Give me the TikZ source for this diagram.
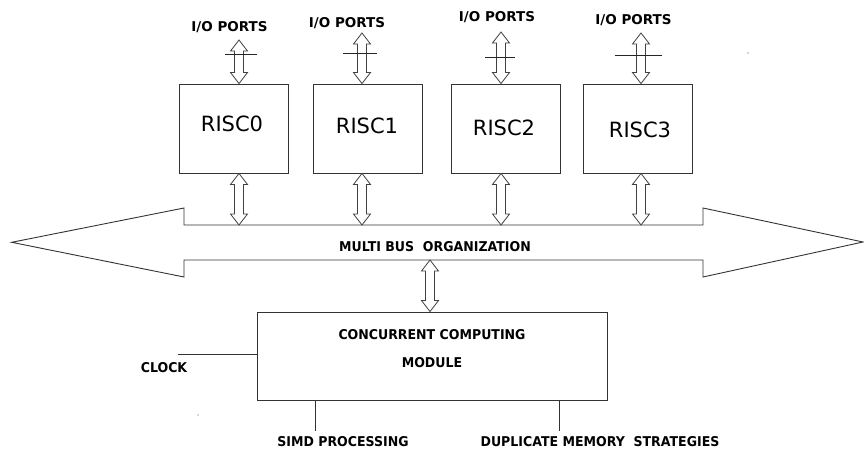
\documentclass[tikz,border=0pt]{standalone}
\usepackage{fontspec}
\setmainfont{DejaVu Sans}
\newfontfamily\lblfont[FakeStretch=0.93]{DejaVu Sans}
\newfontfamily\iofont{DejaVu Sans}
\usetikzlibrary{calc}
\newcommand{\hollowarrow}[2]{%
  \draw[harrow] let \p1=#1, \p2=#2 in
    (\x1,\y1) -- (\x1-8.5pt,\y1-11pt) -- (\x1-4.5pt,\y1-11pt) -- (\x1-4.5pt,\y2+11pt)
    -- (\x1-8.5pt,\y2+11pt) -- (\x1,\y2) -- (\x1+8.5pt,\y2+11pt) -- (\x1+4.5pt,\y2+11pt)
    -- (\x1+4.5pt,\y1-11pt) -- (\x1+8.5pt,\y1-11pt) -- cycle;}
\tikzset{
  ln/.style={draw=black!80, line width=0.9pt},
  harrow/.style={draw=black!75, line width=0.8pt, fill=white, line join=miter},
  riscbox/.style={ln, minimum width=109, minimum height=89, inner sep=0pt},
  risclbl/.style={font=\fontsize{21}{24}\selectfont, inner sep=0pt},
  iolbl/.style={font=\iofont\bfseries\fontsize{13.5}{15}\selectfont, inner sep=0pt},
  lbl/.style={font=\lblfont\bfseries\fontsize{13.5}{15}\selectfont, inner sep=0pt},
  tick/.style={draw=black!85, line width=0.9pt}
}
\begin{document}
\begin{tikzpicture}[x=1pt,y=-1pt]
\useasboundingbox (0,0) rectangle (864,450);
% RISC boxes
\node[riscbox] (r0) at (234,128.5) {};
\node[riscbox] (r1) at (368,128.5) {};
\node[riscbox] (r2) at (505.5,128.5) {};
\node[riscbox] (r3) at (637.5,128.5) {};
\node[risclbl] (t0) at (232,124) {RISC0};
\node[risclbl] (t1) at (367,126) {RISC1};
\node[risclbl] (t2) at (504,128) {RISC2};
\node[risclbl] (t3) at (640,130) {RISC3};
% I/O labels
\node[iolbl] (io0) at (229.5,27) {I/O PORTS};
\node[iolbl] (io1) at (347,23) {I/O PORTS};
\node[iolbl] (io2) at (497,17.5) {I/O PORTS};
\node[iolbl] (io3) at (633.5,20.5) {I/O PORTS};
% I/O arrow top ends
\coordinate (p0) at (239,40);
\coordinate (p1) at (362,33);
\coordinate (p2) at (501,32);
\coordinate (p3) at (641,33);
\hollowarrow{(p0)}{(p0 |- r0.north)}
\hollowarrow{(p1)}{(p1 |- r1.north)}
\hollowarrow{(p2)}{(p2 |- r2.north)}
\hollowarrow{(p3)}{(p3 |- r3.north)}
% ticks
\draw[tick] (225,54) -- (257,54);
\draw[tick] (343,53) -- (377,53);
\draw[tick] (485,57) -- (515,57);
\draw[tick] (615,55) -- (662,55);
% bus
\coordinate (bustop) at (435,225);
\coordinate (busbot) at (435,260);
\draw[ln, line join=miter] (184,225) -- (703,225) -- (703,208) -- (863,242) -- (703,277)
  -- (703,260) -- (184,260) -- (184,277) -- (11.7,242.3) -- (184,208) -- cycle;
\node[lbl] (bus) at (435,247) {MULTI BUS\ \ ORGANIZATION};
% RISC to bus arrows
\hollowarrow{(p0 |- r0.south)}{(p0 |- bustop)}
\hollowarrow{(p1 |- r1.south)}{(p1 |- bustop)}
\hollowarrow{(p2 |- r2.south)}{(p2 |- bustop)}
\hollowarrow{(p3 |- r3.south)}{(p3 |- bustop)}
% module
\node[ln, minimum width=350, minimum height=88, inner sep=0pt] (mod) at (432,356) {};
\node[lbl] (m1) at (432,335) {CONCURRENT COMPUTING};
\node[lbl] (m2) at (432,363) {MODULE};
\coordinate (mb) at (430,260);
\hollowarrow{(mb)}{(mb |- mod.north)}
% clock
\coordinate (clk) at (178,354);
\draw[ln] (clk) -- (clk -| mod.west);
\node[lbl] (clock) at (164,368) {CLOCK};
% SIMD
\coordinate (simd) at (315,431);
\draw[ln] (simd |- mod.south) -- (simd);
\node[lbl] (simdl) at (343,442) {SIMD PROCESSING};
% duplicate
\coordinate (dup) at (559,431);
\draw[ln] (dup |- mod.south) -- (dup);
\node[lbl] (dupl) at (600,442) {DUPLICATE MEMORY\ \ STRATEGIES};
% stray dots
\fill[black!70] (198,415) circle (0.6);
\fill[black!70] (748,53) circle (0.6);
\end{tikzpicture}
\end{document}
